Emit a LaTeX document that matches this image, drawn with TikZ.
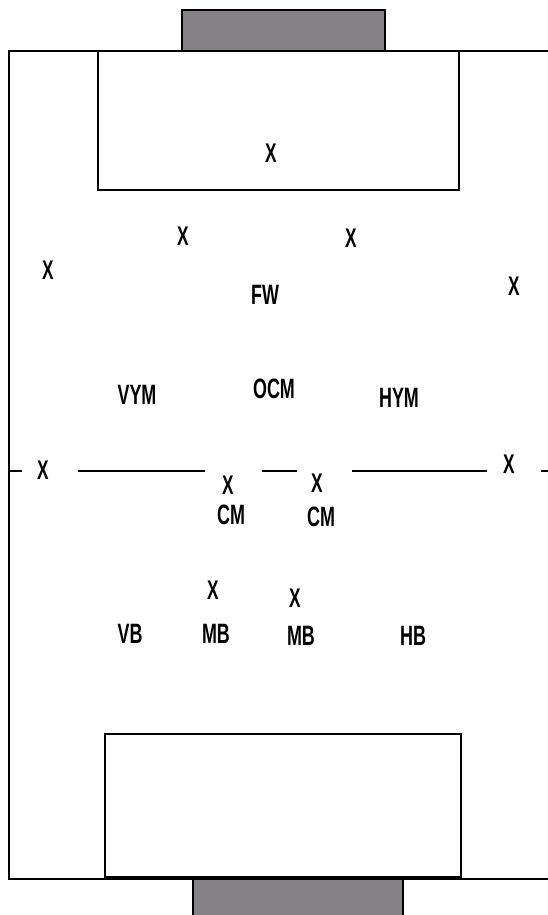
\documentclass[tikz,border=0pt]{standalone}
\usepackage{fontspec}
\setmainfont{Liberation Sans}
\usepackage{graphicx}
\definecolor{goalgray}{RGB}{134,129,134}
\newcommand{\slim}[1]{\scalebox{0.64}[1]{#1}}
\tikzset{
  player/.style={inner sep=0pt, font=\fontsize{27}{27}\selectfont\bfseries},
  rolelbl/.style={inner sep=0pt, font=\fontsize{28}{28}\selectfont\bfseries},
  line/.style={line width=1.5pt}
}
\begin{document}
\begin{tikzpicture}[x=1pt,y=-1pt]
		\useasboundingbox (0,0) rectangle (548,915);
		% Pitch
		\draw[line] (548,51) -- (9,51) -- (9,879) -- (548,879);
		\draw[line] (98,51) rectangle (459,190);
		\draw[line] (105,734) rectangle (461,877);
		\draw[line, fill=goalgray] (182,10) rectangle (385,51);
		\draw[line, fill=goalgray] (193,879) rectangle (403,918);

		% Halfway line
		\draw[line] (9,471) -- (22,471);
		\draw[line] (78,471) -- (205,471);
		\draw[line] (262,471) -- (297,471);
		\draw[line] (352,471) -- (487,471);
		\draw[line] (541,471) -- (548,471);

		% Players
		\node[player] (gk) at (271,153) {\slim{X}};
		\node[player] (p1) at (183,236) {\slim{X}};
		\node[player] (p2) at (351,238) {\slim{X}};
		\node[player] (p3) at (48,270) {\slim{X}};
		\node[player] (p4) at (514,286) {\slim{X}};
		\node[player] (p5) at (43,470) {\slim{X}};
		\node[player] (p6) at (509,464) {\slim{X}};
		\node[player] (p7) at (228,485) {\slim{X}};
		\node[player] (p8) at (317,483) {\slim{X}};
		\node[player] (p9) at (213,590) {\slim{X}};
		\node[player] (p10) at (295,598) {\slim{X}};

		% Positions
		\node[rolelbl] (fw) at (265,295) {\slim{FW}};
		\node[rolelbl] (vym) at (137,395) {\slim{VYM}};
		\node[rolelbl] (ocm) at (274,389) {\slim{OCM}};
		\node[rolelbl] (hym) at (399,398) {\slim{HYM}};
		\node[rolelbl] (cml) at (231,515) {\slim{CM}};
		\node[rolelbl] (cmr) at (321,517) {\slim{CM}};
		\node[rolelbl] (vb) at (130,634) {\slim{VB}};
		\node[rolelbl] (mbl) at (216,634) {\slim{MB}};
		\node[rolelbl] (mbr) at (301,636) {\slim{MB}};
		\node[rolelbl] (hb) at (413,636) {\slim{HB}};
	\end{tikzpicture}
\end{document}
